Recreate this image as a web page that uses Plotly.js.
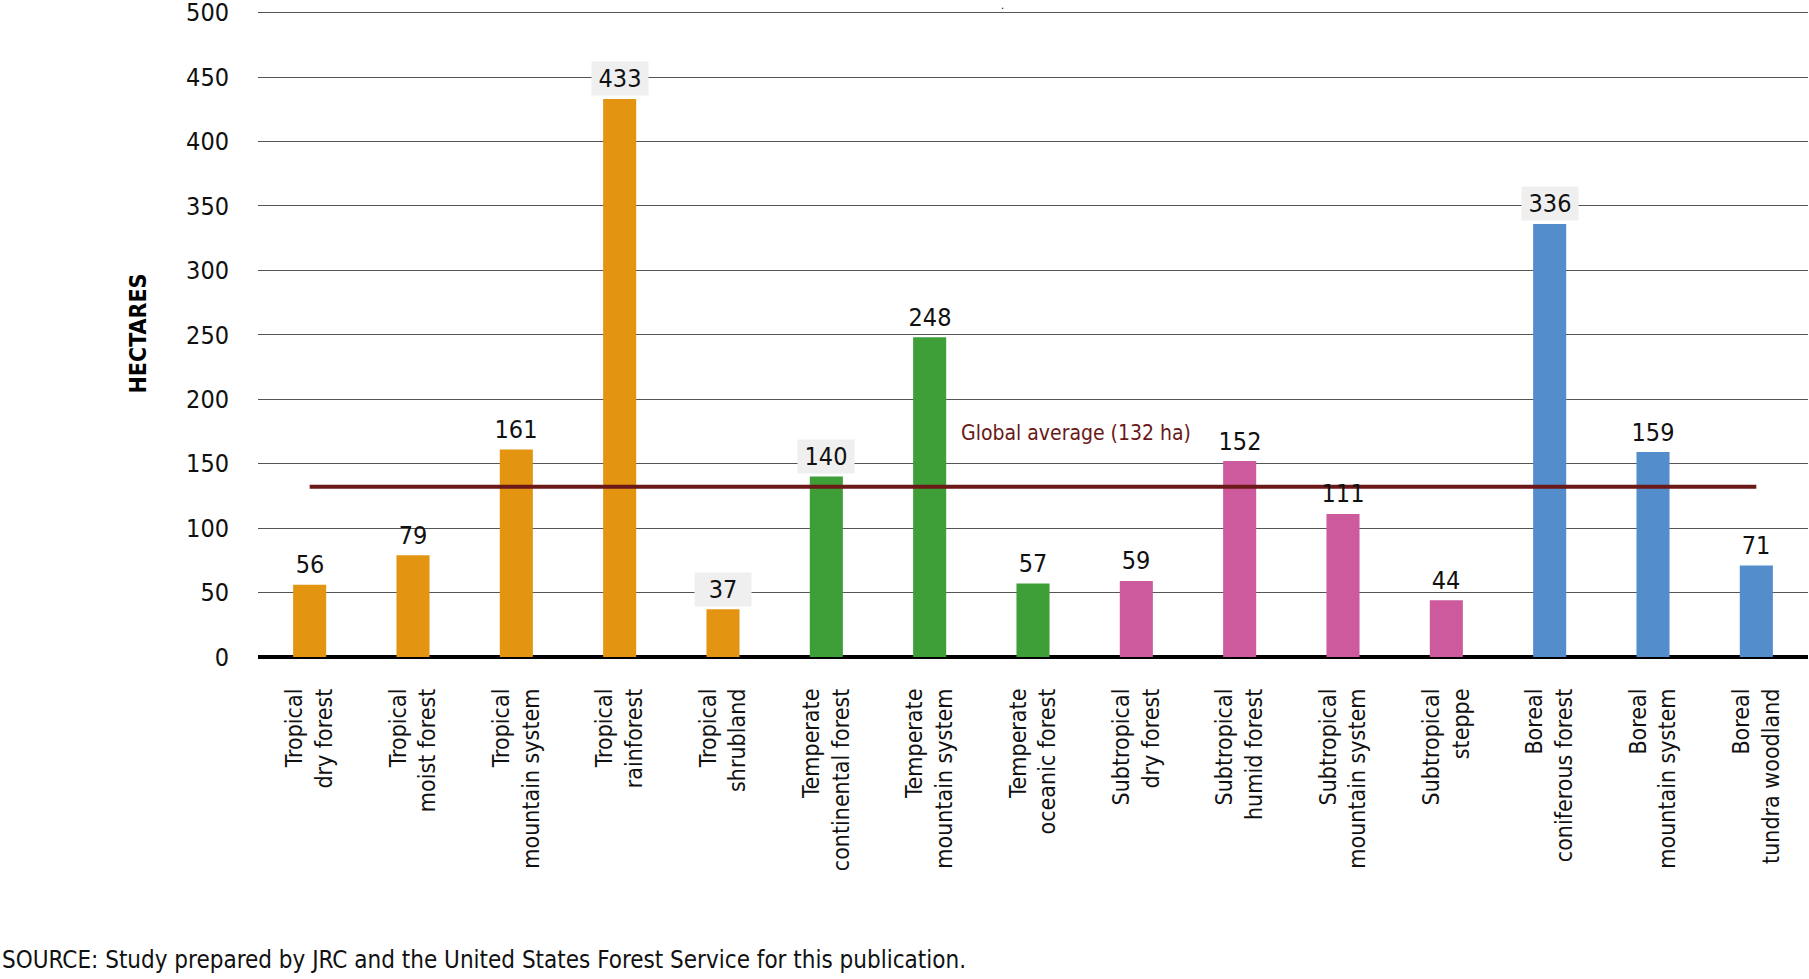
<!DOCTYPE html>
<html>
<head>
<meta charset="utf-8">
<script src="https://cdn.plot.ly/plotly-3.0.1.min.js"></script>
<style>
  html, body { margin: 0; padding: 0; background: #ffffff; }
  #chart { width: 1809px; height: 979px; }
</style>
</head>
<body>
<div id="chart"></div>
<script>
// ---- data ----
const categories = [
  "Tropical<br>dry forest",
  "Tropical<br>moist forest",
  "Tropical<br>mountain system",
  "Tropical<br>rainforest",
  "Tropical<br>shrubland",
  "Temperate<br>continental forest",
  "Temperate<br>mountain system",
  "Temperate<br>oceanic forest",
  "Subtropical<br>dry forest",
  "Subtropical<br>humid forest",
  "Subtropical<br>mountain system",
  "Subtropical<br>steppe",
  "Boreal<br>coniferous forest",
  "Boreal<br>mountain system",
  "Boreal<br>tundra woodland"
];
const hectares = [56, 79, 161, 433, 37, 140, 248, 57, 59, 152, 111, 44, 336, 159, 71];
const zones = ["Tropical","Tropical","Tropical","Tropical","Tropical",
               "Temperate","Temperate","Temperate",
               "Subtropical","Subtropical","Subtropical","Subtropical",
               "Boreal","Boreal","Boreal"];
const globalAverage = 132;
const globalAverageLabel = "Global average (132 ha)";
const yTicks = [0, 50, 100, 150, 200, 250, 300, 350, 400, 450, 500];
const yTitle = "HECTARES";
const sourceText = "SOURCE: Study prepared by JRC and the United States Forest Service for this publication.";

// ---- styles ----
const zoneColors = {
  Tropical: "#E39411",
  Temperate: "#3E9E37",
  Subtropical: "#CC5A9C",
  Boreal: "#538DCB"
};
// which value labels sit on a grey box (style only)
const labelBox = [false,false,false,true,true,true,false,false,false,false,false,false,true,false,false];
const FONT = "'DejaVu Sans Condensed', 'Liberation Sans Narrow', 'DejaVu Sans', sans-serif";

const barTrace = {
  type: "bar",
  x: categories,
  y: hectares,
  marker: { color: zones.map(z => zoneColors[z]), line: { width: 0 } },
  hoverinfo: "x+y",
  showlegend: false
};

const avgTrace = {
  type: "scatter",
  mode: "lines",
  x: [categories[0], categories[categories.length - 1]],
  y: [globalAverage, globalAverage],
  line: { color: "#6B1818", width: 4 },
  hoverinfo: "skip",
  showlegend: false
};

const annotations = hectares.map((v, i) => ({
  x: categories[i],
  y: v,
  xref: "x",
  yref: "y",
  text: String(v),
  showarrow: false,
  yanchor: "middle",
  xanchor: "center",
  yshift: 20,
  width: 54,
  height: 31,
  bgcolor: labelBox[i] ? "#EFEFEF" : "rgba(0,0,0,0)",
  font: { family: FONT, size: 25, color: "#111111" }
}));

annotations.push({
  x: 0.528, xref: "paper",
  y: 174, yref: "y",
  text: globalAverageLabel,
  showarrow: false,
  xanchor: "center", yanchor: "middle",
  font: { family: FONT, size: 21, color: "#6B1818" }
});

annotations.push({
  x: -258 / 1550, xref: "paper",
  y: (657 - 960) / 647, yref: "paper",
  text: sourceText,
  showarrow: false,
  xanchor: "left", yanchor: "middle",
  font: { family: FONT, size: 24, color: "#111111" }
});

annotations.push({
  x: (1002 - 258) / 1550, xref: "paper",
  y: 1 + 10 / 647, yref: "paper",
  text: ".",
  showarrow: false,
  xanchor: "center", yanchor: "top",
  borderpad: 0,
  yshift: 2,
  font: { family: FONT, size: 11, color: "#000000" }
});

const layout = {
  width: 1809,
  height: 979,
  margin: { l: 258, r: 1, t: 10, b: 322, pad: 0 },
  paper_bgcolor: "#ffffff",
  plot_bgcolor: "#ffffff",
  bargap: 0.68,
  font: { family: FONT, color: "#111111" },
  xaxis: {
    type: "category",
    tickangle: -90,
    tickfont: { family: FONT, size: 23, color: "#111111" },
    showgrid: false,
    showline: false,
    ticks: "",
    ticklabelstandoff: 26,
    automargin: false
  },
  yaxis: {
    range: [0, 502],
    tickvals: yTicks,
    ticktext: yTicks.map(String),
    tickfont: { family: FONT, size: 25, color: "#111111" },
    ticklabeloverflow: "allow",
    showgrid: true,
    gridcolor: "#555555",
    gridwidth: 1,
    zeroline: true,
    zerolinecolor: "#000000",
    zerolinewidth: 4,
    showline: false,
    ticks: "",
    ticklabelstandoff: 28,
    automargin: false,
    title: {
      text: yTitle,
      font: { family: FONT, size: 23, color: "#000000", weight: "bold" },
      standoff: 33
    }
  },
  annotations: annotations
};

Plotly.newPlot("chart", [barTrace, avgTrace], layout, { displayModeBar: false, staticPlot: true });
</script>
</body>
</html>
